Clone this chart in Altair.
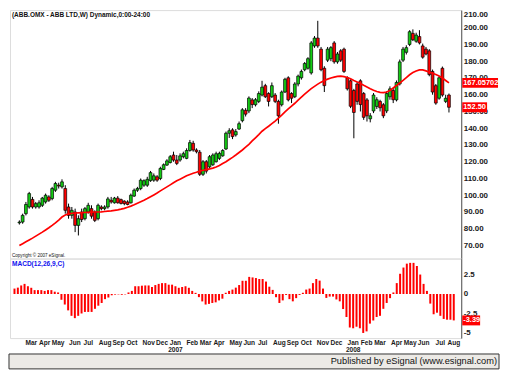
import altair as alt
import pandas as pd

# ---------------- data ----------------
weeks = pd.date_range("2006-01-30", periods=132, freq="7D")

opens = [83.5, 84.0, 89.0, 93.0, 97.5, 93.0, 93.0, 94.0, 96.0, 99.0,
         98.0, 103.0, 106.0, 105.0, 104.0, 93.0, 88.0, 90.0, 82.0, 90.0,
         86.0, 90.0, 92.0, 90.0, 86.0, 93.0, 92.0, 93.0, 97.0, 95.5,
         98.3, 97.4, 96.5, 96.0, 95.5, 99.5, 103.0, 104.0, 106.0, 106.0,
         108.7, 109.0, 111.0, 110.0, 115.4, 118.0, 119.5, 124.0, 121.0, 121.0,
         123.0, 122.0, 126.7, 131.0, 127.0, 125.7, 112.5, 120.0, 117.0, 118.2,
         120.0, 122.0, 123.5, 127.6, 137.0, 139.0, 136.0, 139.5, 144.5, 150.7,
         150.3, 156.9, 154.0, 156.0, 159.8, 165.4, 160.7, 158.8, 159.8, 156.0,
         154.0, 161.6, 170.1, 160.7, 158.8, 166.4, 170.1, 174.9, 175.8, 173.0,
         189.1, 193.8, 187.2, 175.8, 180.6, 181.5, 190.9, 179.6, 186.2, 187.2,
         170.1, 168.3, 162.5, 166.4, 168.3, 160.7, 156.9, 145.6, 150.3, 153.0,
         156.0, 154.0, 150.3, 158.8, 162.5, 156.9, 166.4, 180.6, 185.3, 190.0,
         196.6, 191.9, 194.7, 189.1, 187.2, 186.2, 173.9, 165.4, 157.9, 175.8,
         156.0, 159.8]
highs = [85.0, 89.0, 96.0, 102.0, 99.0, 96.0, 97.0, 99.0, 101.0, 100.0,
         105.0, 108.0, 107.5, 109.5, 106.0, 95.0, 93.0, 92.0, 88.0, 92.0,
         93.0, 95.5, 94.0, 91.0, 95.0, 94.0, 94.0, 99.0, 99.0, 99.0,
         99.5, 98.0, 97.0, 97.0, 101.0, 104.0, 105.0, 110.0, 109.5, 111.0,
         114.5, 113.0, 112.0, 117.0, 119.0, 121.5, 124.0, 126.0, 124.0, 125.0,
         126.0, 128.0, 133.0, 132.5, 128.0, 127.0, 121.0, 121.0, 124.0, 125.0,
         126.0, 126.0, 127.5, 138.0, 140.0, 140.0, 139.5, 144.0, 152.0, 152.0,
         159.0, 158.0, 158.0, 162.0, 168.3, 166.5, 161.5, 167.3, 161.0, 157.0,
         162.5, 170.1, 171.0, 161.5, 167.5, 172.0, 175.0, 179.5, 182.4, 192.0,
         195.0, 204.1, 188.5, 177.0, 188.5, 189.0, 192.0, 185.5, 187.2, 188.1,
         171.0, 169.2, 163.5, 167.5, 169.2, 161.6, 158.0, 149.0, 161.0, 158.5,
         157.0, 155.0, 162.0, 165.0, 164.0, 168.5, 181.0, 188.5, 189.5, 198.5,
         199.0, 197.0, 198.5, 190.5, 188.5, 187.2, 175.0, 166.4, 171.1, 176.8,
         160.0, 160.7]
lows = [82.5, 83.0, 88.0, 92.0, 92.0, 92.0, 92.0, 93.0, 95.0, 96.0,
        97.0, 102.0, 104.0, 104.0, 89.0, 86.0, 86.0, 78.0, 76.0, 84.0,
        85.0, 89.0, 86.0, 84.0, 85.0, 91.0, 91.0, 92.0, 95.0, 95.0,
        95.0, 94.5, 94.0, 94.0, 95.0, 99.0, 102.0, 103.0, 105.0, 105.0,
        108.0, 108.0, 108.0, 109.0, 115.0, 117.5, 119.0, 120.0, 118.0, 120.0,
        122.0, 121.5, 126.0, 126.0, 125.0, 111.5, 111.5, 113.0, 116.0, 117.5,
        119.5, 121.0, 123.0, 127.0, 134.2, 133.5, 135.0, 139.0, 143.5, 147.0,
        149.0, 152.0, 153.0, 155.0, 159.0, 158.0, 153.0, 158.0, 155.0, 142.7,
        153.0, 161.0, 156.0, 155.0, 158.0, 165.0, 169.0, 174.0, 175.0, 172.0,
        188.0, 188.0, 174.0, 161.6, 179.5, 180.0, 178.5, 178.5, 179.5, 173.0,
        162.5, 152.0, 134.0, 154.0, 150.0, 145.0, 144.0, 143.5, 149.0, 151.5,
        150.0, 146.0, 149.0, 157.0, 155.0, 156.0, 165.5, 179.5, 184.0, 189.0,
        192.0, 191.0, 190.0, 181.5, 183.5, 171.0, 160.0, 154.0, 157.0, 158.8,
        155.0, 149.4]
closes = [84.0, 88.0, 94.5, 101.0, 93.0, 95.0, 95.5, 98.3, 100.0, 97.0,
          104.0, 107.0, 105.5, 108.0, 91.0, 88.0, 91.0, 82.0, 86.0, 85.5,
          92.0, 94.0, 87.5, 85.0, 94.0, 92.0, 93.0, 97.8, 96.0, 98.3,
          95.5, 95.1, 95.0, 94.5, 100.0, 103.0, 104.0, 109.0, 108.7, 109.5,
          113.5, 111.6, 109.0, 116.0, 118.2, 120.5, 123.0, 121.0, 119.0, 123.5,
          124.8, 126.7, 131.4, 127.0, 126.0, 112.5, 120.0, 114.4, 123.0, 124.0,
          124.8, 125.0, 126.7, 137.0, 138.5, 135.0, 138.0, 142.7, 151.0, 148.4,
          158.0, 154.1, 157.0, 160.7, 164.5, 158.8, 156.0, 165.4, 156.0, 147.4,
          161.6, 169.2, 156.9, 157.9, 166.4, 171.1, 173.9, 178.6, 181.5, 190.9,
          193.8, 189.1, 174.9, 165.4, 187.2, 188.1, 179.6, 184.3, 180.6, 173.9,
          163.5, 153.1, 149.4, 156.0, 154.1, 146.5, 147.4, 147.4, 159.8, 157.0,
          152.2, 147.4, 160.7, 163.5, 157.0, 167.3, 179.6, 187.2, 188.1, 197.6,
          192.8, 195.6, 190.9, 182.4, 184.3, 172.0, 161.6, 155.0, 170.1, 159.8,
          157.9, 152.5]
ma_line = [70.0, 71.1, 72.2, 73.3, 74.4, 75.6, 76.8, 78.0, 79.3, 80.6,
           82.0, 83.5, 85.2, 87.0, 88.2, 88.9, 89.2, 89.4, 89.5, 89.6,
           89.7, 89.8, 89.9, 90.0, 90.0, 90.1, 90.3, 90.5, 90.7, 91.0,
           91.3, 91.7, 92.2, 92.8, 93.5, 94.3, 95.2, 96.1, 97.0, 98.0,
           99.1, 100.2, 101.3, 102.6, 103.8, 105.0, 106.2, 107.4, 108.6, 109.6,
           110.6, 111.6, 112.4, 113.1, 113.7, 114.4, 114.9, 115.3, 115.7, 116.2,
           116.9, 117.8, 118.9, 120.0, 121.3, 122.6, 124.0, 125.5, 127.0, 128.7,
           130.4, 132.4, 134.3, 136.2, 138.2, 139.8, 141.2, 142.7, 144.2, 146.0,
           147.8, 149.7, 151.5, 153.2, 154.9, 156.7, 158.5, 160.3, 162.0, 163.6,
           165.0, 166.3, 167.5, 168.5, 169.3, 170.0, 170.5, 170.9, 171.1, 170.8,
           170.3, 169.5, 168.5, 167.6, 166.7, 165.6, 164.6, 163.6, 162.7, 161.9,
           161.4, 161.3, 161.6, 162.5, 164.0, 165.5, 167.0, 168.5, 170.2, 171.9,
           173.2, 174.2, 174.8, 174.8, 174.2, 173.4, 172.8, 172.1, 171.1, 170.0,
           168.5, 167.05702]
macd_hist = [0.7, 0.82, 1.1, 1.3, 1.0, 0.8, 0.5, 0.5, 0.5, 0.4,
             0.5, 0.5, 0.3, 0.2, -0.74, -1.35, -2.1, -2.8, -3.1, -2.8,
             -2.5, -2.3, -2.3, -2.3, -1.9, -1.5, -1.15, -0.66, -0.45, -0.16,
             -0.08, -0.05, -0.1, -0.05, 0.2, 0.4, 1.0, 1.0, 1.07, 1.1,
             1.1, 0.9, 1.15, 1.3, 1.4, 1.4, 1.2, 1.2, 1.0, 0.8,
             0.9, 1.0, 0.8, 0.4, 0.15, -0.4, -0.95, -1.35, -1.27, -1.15,
             -1.07, -0.82, -0.6, 0.16, 0.4, 0.57, 0.82, 1.15, 1.7, 1.7,
             2.2, 2.13, 2.05, 1.93, 1.93, 1.6, 0.94, 0.53, -0.41, -1.15,
             -0.82, -0.12, -0.66, -0.94, -0.53, -0.12, 0.16, 0.57, 0.7, 1.4,
             1.93, 1.72, 0.7, -0.5, -0.33, -0.33, -0.7, -0.94, -1.93, -2.95,
             -4.3, -4.4, -4.2, -4.4, -5.0, -4.8, -3.8, -3.4, -2.95, -2.8,
             -1.9, -1.15, -0.53, 0.2, 1.4, 2.6, 3.4, 3.9, 4.0, 4.0,
             3.6, 2.5, 1.3, 0.4, -1.23, -2.6, -2.4, -2.8, -3.2, -3.3,
             -3.3, -3.39]
price_ticks = [70, 80, 90, 100, 110, 120, 130, 140, 150, 160, 170, 180, 190, 200, 210]
macd_ticks = [2.5, 0, -2.5, -5]
TITLE = "(ABB.OMX - ABB LTD,W) Dynamic,0:00-24:00"
COPY = "Copyright © 2007 eSignal."
MACD_TITLE = "MACD(12,26,9,C)"
FOOTER = "Published by eSignal (www.esignal.com)"

# ---------------- tables ----------------
n = len(closes)
df = pd.DataFrame({"i": list(range(n)), "open": opens, "high": highs, "low": lows,
                   "close": closes, "ma": ma_line, "macd": macd_hist})
df["dir"] = ["up" if c >= o else "down" for o, c in zip(opens, closes)]

mon = []
prev = None
for k, d in enumerate(weeks):
    key = (d.year, d.month)
    if key != prev:
        if k >= 3:
            mon.append({"i": k, "m": d.strftime("%b"), "yr": str(d.year) if d.month == 1 else ""})
        prev = key
mdf = pd.DataFrame(mon)
ydf = mdf[mdf["yr"] != ""]

# ---------------- style ----------------
W, HP, HM = 454, 250, 80
FONT = "Liberation Sans"
BG = "#F6F5F9"
GREEN = "#14CC14"
RED = "#FF0000"

xs = alt.Scale(domain=[-1.343, 133.23], nice=False, zero=False)
ysp = alt.Scale(domain=[62.2, 210.5], nice=False, zero=False)
ysm = alt.Scale(domain=[-5.66, 4.55], nice=False, zero=False)
X = alt.X("i:Q", scale=xs, axis=None)

price_axis = alt.Axis(orient="right", values=price_ticks, format=".2f", title=None,
                      grid=False, ticks=False, domain=True, domainColor="#555",
                      labelFont=FONT, labelFontSize=8, labelFontWeight="bold",
                      labelColor="#1a1a1a", labelPadding=2, labelFlush=True,
                      labelOverlap=False)
macd_axis = alt.Axis(orient="right", values=macd_ticks, title=None, grid=False, ticks=False,
                     domain=True, domainColor="#555", labelOverlap=False,
                     labelExpr="datum.value == 0 ? '0' : (datum.value < 0 ? '-' + format(-datum.value, '~g') : format(datum.value, '~g'))",
                     labelFont=FONT, labelFontSize=8, labelFontWeight="bold",
                     labelColor="#1a1a1a", labelPadding=2)


def box_path(w):
    # unit-box path scaled by sqrt(size)/2 = 5 -> height 10px
    u = w / 5.0
    return f"M0,-1L{u:.3f},-1L{u:.3f},1L0,1Z"


def value_box(value, label, scale, axis, width):
    d = pd.DataFrame({"v": [value], "t": [label]})
    b = alt.Chart(d).mark_point(shape=box_path(width), size=100, filled=True,
                                fill=RED, strokeWidth=0, opacity=1).encode(
        x=alt.value(W + 1), y=alt.Y("v:Q", scale=scale, axis=axis))
    t = alt.Chart(d).mark_text(align="left", baseline="middle", font=FONT, fontSize=7.5,
                               fontWeight="bold", color="white").encode(
        x=alt.value(W + 2), y=alt.Y("v:Q", scale=scale, axis=axis), text="t:N")
    return b + t


base = alt.Chart(df)
wick = base.mark_rule(color="black", strokeWidth=1).encode(
    X, y=alt.Y("low:Q", scale=ysp, axis=price_axis), y2="high:Q")
body = base.mark_bar(width=2.8, stroke="black", strokeWidth=0.7).encode(
    X, y=alt.Y("open:Q", scale=ysp, axis=price_axis), y2="close:Q",
    color=alt.Color("dir:N", scale=alt.Scale(domain=["up", "down"], range=[GREEN, RED]), legend=None))
maline = base.mark_line(color=RED, strokeWidth=1.7).encode(
    X, y=alt.Y("ma:Q", scale=ysp, axis=price_axis))
title = alt.Chart(pd.DataFrame({"t": [TITLE]})).mark_text(
    align="left", baseline="top", font=FONT, fontSize=6.5, fontWeight="bold", color="#111").encode(
    x=alt.value(2), y=alt.value(2), text="t:N")
copy = alt.Chart(pd.DataFrame({"t": [COPY]})).mark_text(
    align="left", baseline="bottom", font=FONT, fontSize=4.6, color="#111").encode(
    x=alt.value(2), y=alt.value(HP - 1), text="t:N")

price = alt.layer(
    wick, body, maline, title, copy,
    value_box(ma_line[-1], f"{ma_line[-1]:.5f}", ysp, price_axis, 36),
    value_box(closes[-1], f"{closes[-1]:.2f}", ysp, price_axis, 25),
).properties(width=W, height=HP)

bars = alt.Chart(df).mark_rule(color=RED, strokeWidth=2).encode(
    X, y=alt.Y("macd:Q", scale=ysm, axis=macd_axis), y2=alt.datum(0))
mtitle = alt.Chart(pd.DataFrame({"t": [MACD_TITLE]})).mark_text(
    align="left", baseline="top", font=FONT, fontSize=6.6, fontWeight="bold", color="#1010EE").encode(
    x=alt.value(2), y=alt.value(2), text="t:N")
mlabels = alt.Chart(mdf).mark_text(baseline="middle", font=FONT, fontSize=6.6, fontWeight="bold",
                                   color="#1a1a1a").encode(
    x=alt.X("i:Q", scale=xs, axis=None), y=alt.value(HM + 5), text="m:N")
ylabels = alt.Chart(ydf).mark_text(baseline="middle", font=FONT, fontSize=6.6, fontWeight="bold",
                                   color="#1a1a1a").encode(
    x=alt.X("i:Q", scale=xs, axis=None), y=alt.value(HM + 12), text="yr:N")
fdf = pd.DataFrame({"t": [FOOTER]})
footer_bg = alt.Chart(fdf).mark_rect(fill="#ECEAE6", stroke="#333", strokeWidth=1).encode(
    x=alt.value(-1), x2=alt.value(W + 38), y=alt.value(HM + 16), y2=alt.value(HM + 31))
footer = alt.Chart(fdf).mark_text(align="right", baseline="middle", font=FONT, fontSize=9.3,
                                  color="#111").encode(
    x=alt.value(W + 36), y=alt.value(HM + 23), text="t:N")

macd = alt.layer(
    bars, mtitle, mlabels, ylabels, footer_bg, footer,
    value_box(macd_hist[-1], f"{macd_hist[-1]:.2f}", ysm, macd_axis, 18),
).properties(width=W, height=HM)

chart = alt.vconcat(price, macd, spacing=0, bounds="flush",
                    padding={"left": 0, "top": 0, "right": 0, "bottom": 0}).configure_view(
    fill=BG, stroke="#777", strokeWidth=1).configure_axis(
    labelOverlap=False).configure(background="white")

chart.save("out.html", embed_options={"renderer": "svg", "actions": False})
